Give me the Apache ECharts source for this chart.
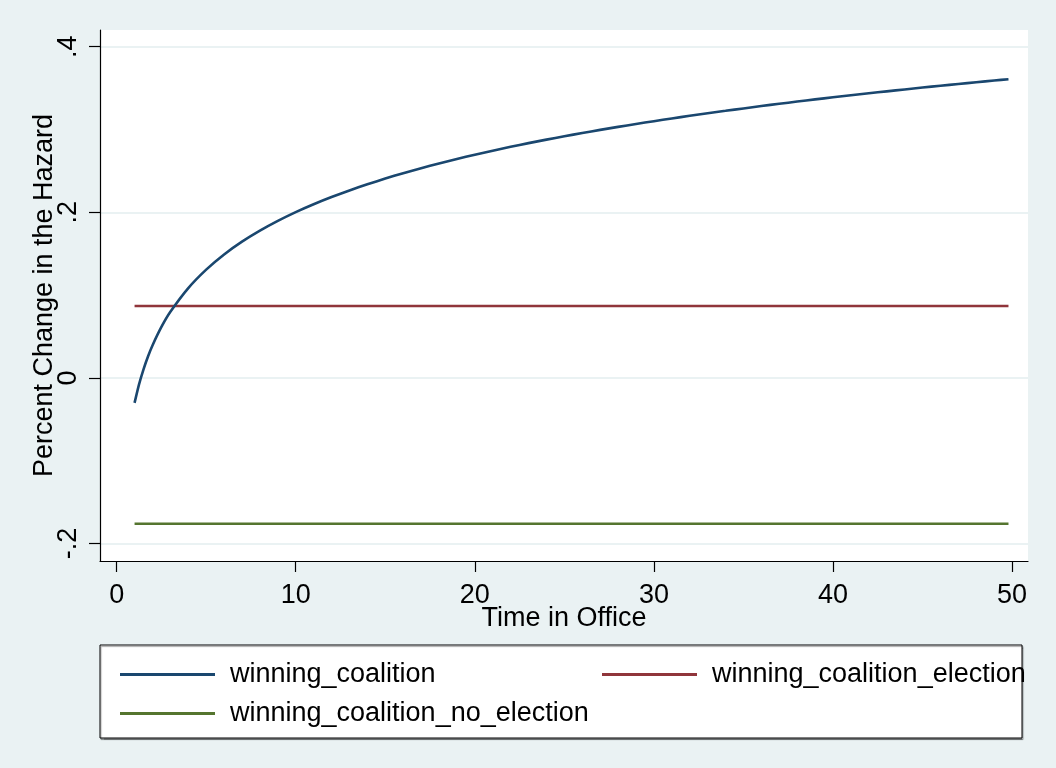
<!DOCTYPE html>
<html>
<head>
<meta charset="utf-8">
<title>Percent Change in the Hazard</title>
<script src="https://cdn.jsdelivr.net/npm/echarts@6/dist/echarts.min.js"></script>
<style>
  html, body { margin: 0; padding: 0; background: #eaf2f3; }
  #chart { width: 1056px; height: 768px; }
</style>
</head>
<body>
<div id="chart"></div>
<script>
// Time in office (x) for the winning-coalition curve
const timeInOffice = [1, 1.25, 1.5, 1.75, 2, 2.5, 3, 4, 5, 6, 7, 8, 9, 10,
  11, 12, 13, 14, 15, 16, 17, 18, 19, 20, 21, 22, 23, 24, 25, 26, 27, 28, 29, 30,
  31, 32, 33, 34, 35, 36, 37, 38, 39, 40, 41, 42, 43, 44, 45, 46, 47, 48, 49, 49.8];

// Percent change in the hazard, winning coalition
const winningCoalition = [-0.0300, -0.0077, 0.0105, 0.0260, 0.0393, 0.0616, 0.0799, 0.1086,
  0.1309, 0.1492, 0.1646, 0.1779, 0.1897, 0.2003, 0.2098, 0.2185, 0.2265, 0.2339, 0.2408,
  0.2473, 0.2533, 0.2590, 0.2644, 0.2696, 0.2745, 0.2791, 0.2836, 0.2878, 0.2919, 0.2958,
  0.2996, 0.3032, 0.3067, 0.3101, 0.3134, 0.3166, 0.3197, 0.3226, 0.3255, 0.3284, 0.3311,
  0.3338, 0.3364, 0.3389, 0.3414, 0.3438, 0.3461, 0.3484, 0.3507, 0.3529, 0.3550, 0.3571,
  0.3592, 0.3608];

// Constant effects (with / without election)
const flatRange = [1, 49.8];
const winningCoalitionElection = [0.087, 0.087];
const winningCoalitionNoElection = [-0.176, -0.176];

// Axis ticks
const xTicks = [0, 10, 20, 30, 40, 50];
const yTicks = [-0.2, 0, 0.2, 0.4];
const yTickLabels = ['-.2', '0', '.2', '.4'];

const seriesNames = ['winning_coalition', 'winning_coalition_election', 'winning_coalition_no_election'];
const colors = ['#1a476f', '#90353b', '#55752f'];

const FONT = 'Liberation Sans, Arial, sans-serif';
const BG = '#eaf2f3';

const chart = echarts.init(document.getElementById('chart'), null, { renderer: 'canvas' });

function pairs(xs, ys) { return xs.map((x, i) => [x, ys[i]]); }

function legendAt(name, left, top) {
  return {
    data: [name],
    left: left, top: top,
    orient: 'horizontal',
    icon: 'rect',
    itemWidth: 95, itemHeight: 3,
    padding: 0,
    selectedMode: false,
    textStyle: { fontFamily: FONT, fontSize: 27, color: '#000', padding: [0, 0, 0, 10] }
  };
}

const option = {
  backgroundColor: BG,
  animation: false,
  color: colors,
  grid: { left: 100, top: 30, right: 28, bottom: 207, backgroundColor: '#fff', show: true, borderWidth: 0 },
  graphic: [{
    type: 'rect',
    shape: { x: 100, y: 645, width: 922, height: 93 },
    style: { fill: '#fff', stroke: '#000', lineWidth: 1, shadowColor: 'rgba(0,0,0,0.35)', shadowOffsetX: 1, shadowOffsetY: 1.5, shadowBlur: 1 },
    z: 0
  }],
  legend: [
    legendAt(seriesNames[0], 120, 661),
    legendAt(seriesNames[1], 602, 661),
    legendAt(seriesNames[2], 120, 700)
  ],
  xAxis: {
    type: 'value',
    min: -0.93, max: 50.89,
    name: 'Time in Office',
    nameLocation: 'middle',
    nameGap: 44,
    nameMoveOverlap: false,
    nameTextStyle: { fontFamily: FONT, fontSize: 27, color: '#000' },
    axisLine: { show: true, onZero: false, lineStyle: { color: '#000', width: 1.2 } },
    axisTick: { show: true, length: 11, customValues: xTicks, lineStyle: { color: '#000', width: 1.2 } },
    axisLabel: { customValues: xTicks, margin: 21, fontFamily: FONT, fontSize: 27, color: '#000',
      formatter: v => String(v) },
    splitLine: { show: false }
  },
  yAxis: {
    type: 'value',
    min: -0.221, max: 0.4202,
    name: 'Percent Change in the Hazard',
    nameLocation: 'middle',
    nameGap: 42,
    nameMoveOverlap: false,
    nameRotate: 90,
    nameTextStyle: { fontFamily: FONT, fontSize: 27, color: '#000' },
    axisLine: { show: true, onZero: false, lineStyle: { color: '#000', width: 1.2 } },
    axisTick: { show: true, length: 11, customValues: yTicks, lineStyle: { color: '#000', width: 1.2 } },
    axisLabel: { customValues: yTicks, rotate: 90, margin: 18, fontFamily: FONT, fontSize: 27, color: '#000',
      formatter: v => yTickLabels[yTicks.findIndex(t => Math.abs(t - v) < 1e-9)] },
    splitLine: { show: true, lineStyle: { color: BG, width: 2 } }
  },
  series: [
    {
      name: seriesNames[0], type: 'line', showSymbol: false, symbol: 'none',
      smooth: 0.2,
      data: pairs(timeInOffice, winningCoalition),
      lineStyle: { color: colors[0], width: 2.6 }, itemStyle: { color: colors[0] }, z: 5
    },
    {
      name: seriesNames[1], type: 'line', showSymbol: false, symbol: 'none',
      data: pairs(flatRange, winningCoalitionElection),
      lineStyle: { color: colors[1], width: 2.6 }, itemStyle: { color: colors[1] }, z: 4
    },
    {
      name: seriesNames[2], type: 'line', showSymbol: false, symbol: 'none',
      data: pairs(flatRange, winningCoalitionNoElection),
      lineStyle: { color: colors[2], width: 2.6 }, itemStyle: { color: colors[2] }, z: 4
    }
  ]
};

chart.setOption(option);
</script>
</body>
</html>
